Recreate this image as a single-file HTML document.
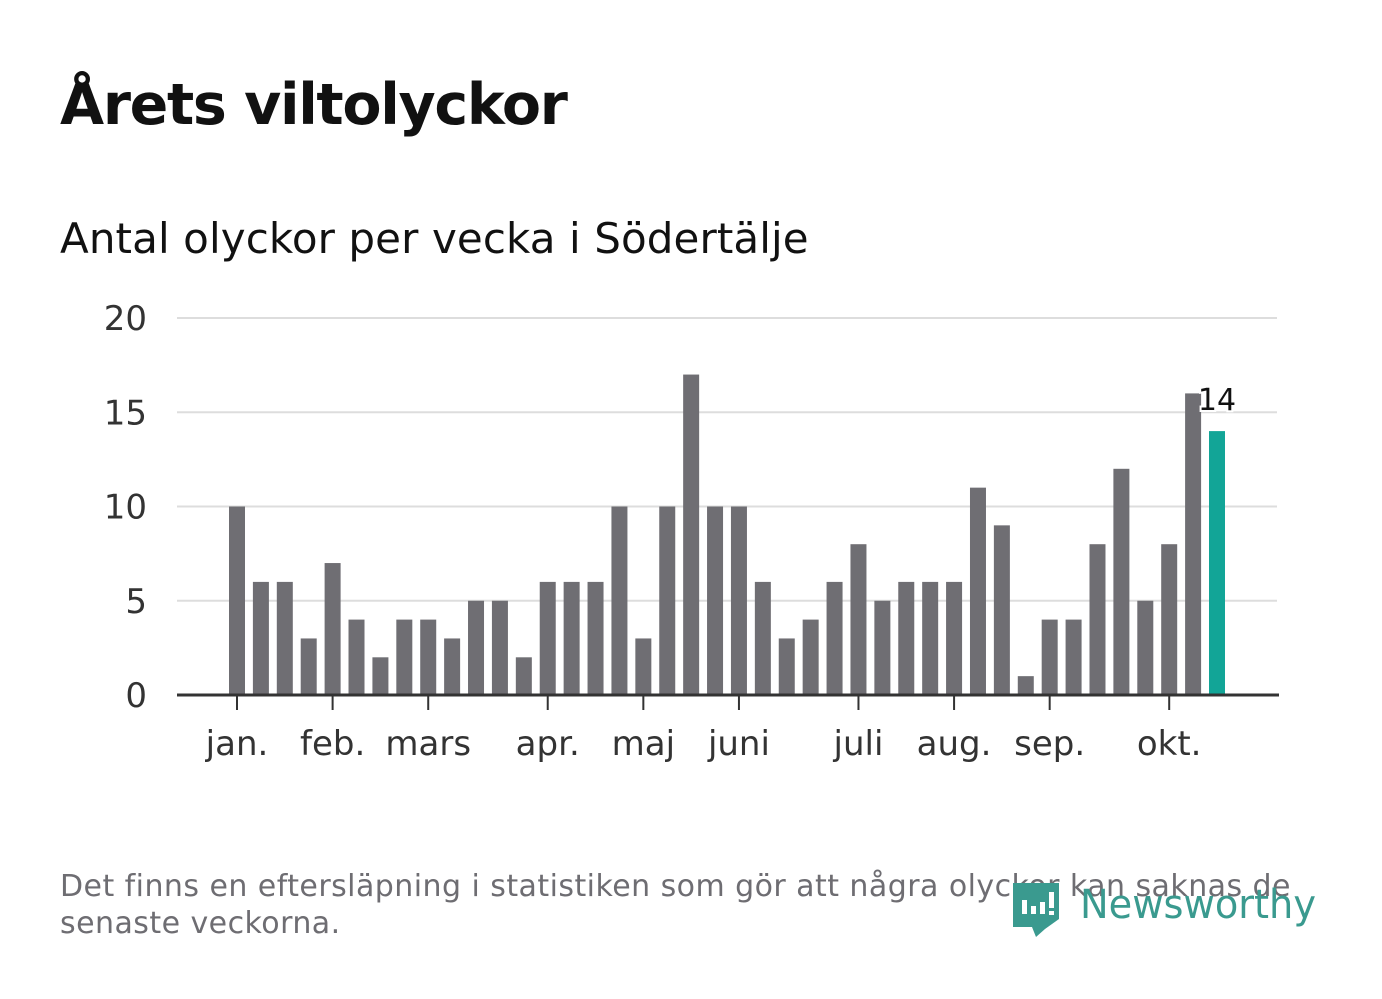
<!DOCTYPE html>
<html><head><meta charset="utf-8"><style>
body{margin:0;width:1382px;height:999px;background:#fff;font-family:"DejaVu Sans","Liberation Sans",sans-serif;overflow:hidden;position:relative}
.t{position:absolute;white-space:nowrap}
</style></head><body>
<div class="t" style="left:60px;top:72px;font-size:57px;font-weight:bold;color:#111;letter-spacing:-1.3px">Årets viltolyckor</div>
<div class="t" style="left:60px;top:214px;font-size:42px;color:#111;letter-spacing:0.1px">Antal olyckor per vecka i Södertälje</div>
<svg id="chart" width="1382" height="999" style="position:absolute;left:0;top:0"></svg>
<div class="t" style="left:60px;top:868px;font-size:30px;color:#6e6d72;line-height:37px;letter-spacing:0.45px;white-space:normal;width:1300px">Det finns en eftersläpning i statistiken som gör att några olyckor kan saknas de<br>senaste veckorna.</div>
<div style="position:absolute;left:1010px;top:878px">
<svg width="330" height="64"><path d="M3 5h46v36l-14 10l-9 8l-4-10H3z" fill="#3a9a8f"/><rect x="12" y="22" width="5" height="14" fill="#fff"/><rect x="21" y="28" width="5" height="8" fill="#fff"/><rect x="30" y="24" width="5" height="12" fill="#fff"/><rect x="39" y="14" width="5" height="16" fill="#fff"/><rect x="39" y="33" width="5" height="4" fill="#fff"/>
<text x="70" y="40" font-size="40" fill="#3a9a8f" textLength="236" lengthAdjust="spacingAndGlyphs" font-family="DejaVu Sans, sans-serif">Newsworthy</text></svg></div>
<script>
const values=[10,6,6,3,7,4,2,4,4,3,5,5,2,6,6,6,10,3,10,17,10,10,6,3,4,6,8,5,6,6,6,11,9,1,4,4,8,12,5,8,16,14];
const yTicks=[0,5,10,15,20];
const monthLabels=["jan.","feb.","mars","apr.","maj","juni","juli","aug.","sep.","okt."];
const monthIdx=[0,4,8,13,17,21,26,30,34,39];
const NS="http://www.w3.org/2000/svg",svg=document.getElementById('chart');
const x0=237,step=(1217-237)/41,bw=16;
const y=v=>695-v*(695-318)/20, x=i=>x0+i*step;
function mk(t,a){const e=document.createElementNS(NS,t);for(const k in a)e.setAttribute(k,a[k]);svg.appendChild(e);return e;}
yTicks.forEach(v=>{
 if(v>0){const g=mk('line',{x1:177,x2:1277,y1:y(v),y2:y(v),stroke:'#dddddd','stroke-width':2});
 
 }
 const t=mk('text',{x:147,y:y(v)+12,'text-anchor':'end','font-size':34,fill:'#333','font-family':'DejaVu Sans, sans-serif'});t.textContent=v;
 
 
});
values.forEach((v,i)=>{
 const last=i===values.length-1;
 const r=mk('rect',{x:x(i)-bw/2,y:y(v),width:bw,height:y(0)-y(v),fill:last?'#12a597':'#6f6e73'});
 
 
 if(last){const t=mk('text',{x:x(i),y:y(v)-21,'text-anchor':'middle','font-size':30,fill:'#111','font-family':'DejaVu Sans, sans-serif',stroke:'#fff','stroke-width':4,'paint-order':'stroke'});t.textContent=v;
 
 }
});
const b=mk('line',{x1:177,x2:1279,y1:695,y2:695,stroke:'#333','stroke-width':3});


monthIdx.forEach((m,k)=>{
 const tk=mk('line',{x1:x(m),x2:x(m),y1:695,y2:710,stroke:'#333','stroke-width':2});
 
 
 const t=mk('text',{x:x(m),y:755,'text-anchor':'middle','font-size':34,fill:'#333','font-family':'DejaVu Sans, sans-serif'});t.textContent=monthLabels[k];
 
 
});
</script>
</body></html>
